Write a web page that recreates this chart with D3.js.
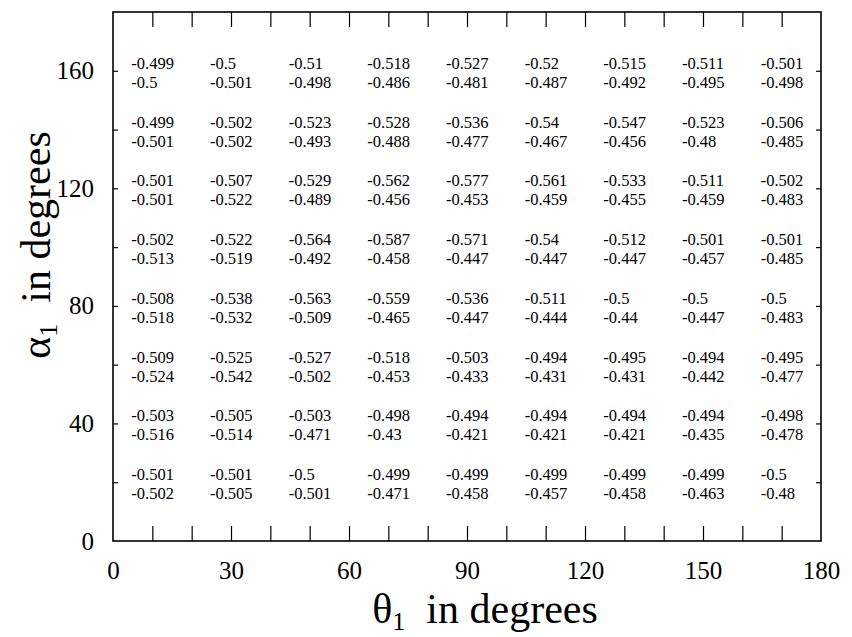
<!DOCTYPE html>
<html>
<head>
<meta charset="utf-8">
<script src="https://cdn.jsdelivr.net/npm/d3@7"></script>
<style>
  body { margin: 0; background: #fff; }
  svg { font-family: "Liberation Serif", "DejaVu Serif", serif; }
  .frame { fill: none; stroke: #000; stroke-width: 1.6; }
  .tick line { stroke: #000; stroke-width: 1.2; }
  .domain { display: none; }
</style>
</head>
<body>
<svg width="852" height="637"></svg>
<script>
// grid positions (degrees)
const thetas = [10, 30, 50, 70, 90, 110, 130, 150, 170]
const alphas = [160, 140, 120, 100, 80, 60, 40, 20]

// upper number in each cell, rows from alpha=160 down to alpha=20
const upperValues = [
  [-0.499, -0.5, -0.51, -0.518, -0.527, -0.52, -0.515, -0.511, -0.501],
  [-0.499, -0.502, -0.523, -0.528, -0.536, -0.54, -0.547, -0.523, -0.506],
  [-0.501, -0.507, -0.529, -0.562, -0.577, -0.561, -0.533, -0.511, -0.502],
  [-0.502, -0.522, -0.564, -0.587, -0.571, -0.54, -0.512, -0.501, -0.501],
  [-0.508, -0.538, -0.563, -0.559, -0.536, -0.511, -0.5, -0.5, -0.5],
  [-0.509, -0.525, -0.527, -0.518, -0.503, -0.494, -0.495, -0.494, -0.495],
  [-0.503, -0.505, -0.503, -0.498, -0.494, -0.494, -0.494, -0.494, -0.498],
  [-0.501, -0.501, -0.5, -0.499, -0.499, -0.499, -0.499, -0.499, -0.5]
]

// lower number in each cell
const lowerValues = [
  [-0.5, -0.501, -0.498, -0.486, -0.481, -0.487, -0.492, -0.495, -0.498],
  [-0.501, -0.502, -0.493, -0.488, -0.477, -0.467, -0.456, -0.48, -0.485],
  [-0.501, -0.522, -0.489, -0.456, -0.453, -0.459, -0.455, -0.459, -0.483],
  [-0.513, -0.519, -0.492, -0.458, -0.447, -0.447, -0.447, -0.457, -0.485],
  [-0.518, -0.532, -0.509, -0.465, -0.447, -0.444, -0.44, -0.447, -0.483],
  [-0.524, -0.542, -0.502, -0.453, -0.433, -0.431, -0.431, -0.442, -0.477],
  [-0.516, -0.514, -0.471, -0.43, -0.421, -0.421, -0.421, -0.435, -0.478],
  [-0.502, -0.505, -0.501, -0.471, -0.458, -0.457, -0.458, -0.463, -0.48]
]

const xLabelTicks = [0, 30, 60, 90, 120, 150, 180]
const xMinorTicks = [10, 20, 30, 40, 50, 60, 70, 80, 90, 100, 110, 120, 130, 140, 150, 160, 170]
const yLabelTicks = [0, 40, 80, 120, 160]
const yMinorTicks = [20, 40, 60, 80, 100, 120, 140, 160]

const svg = d3.select('svg')
const plot = { left: 113, right: 821, top: 12, bottom: 541 }

const x = d3.scaleLinear().domain([0, 180]).range([plot.left, plot.right])
const y = d3.scaleLinear().domain([0, 180]).range([plot.bottom, plot.top])

// inner tick marks on all four sides
svg.append('g').attr('transform', `translate(0,${plot.bottom})`)
  .call(d3.axisBottom(x).tickValues(xMinorTicks).tickSize(-15).tickFormat(''))
svg.append('g').attr('transform', `translate(0,${plot.top})`)
  .call(d3.axisTop(x).tickValues(xMinorTicks).tickSize(-15).tickFormat(''))
svg.append('g').attr('transform', `translate(${plot.left},0)`)
  .call(d3.axisLeft(y).tickValues(yMinorTicks).tickSize(-5).tickFormat(''))
svg.append('g').attr('transform', `translate(${plot.right},0)`)
  .call(d3.axisRight(y).tickValues(yMinorTicks).tickSize(-5).tickFormat(''))

// tick labels
svg.append('g').attr('transform', `translate(0,${plot.bottom})`)
  .call(d3.axisBottom(x).tickValues(xLabelTicks).tickSize(0).tickPadding(20))
  .selectAll('text').attr('font-size', 25).attr('font-family', '"Liberation Serif", serif').attr('fill', '#000')
svg.append('g').attr('transform', `translate(${plot.left},0)`)
  .call(d3.axisLeft(y).tickValues(yLabelTicks).tickSize(0).tickPadding(19))
  .selectAll('text').attr('font-size', 25).attr('font-family', '"Liberation Serif", serif').attr('fill', '#000')

svg.append('rect').attr('class', 'frame')
  .attr('x', plot.left).attr('y', plot.top)
  .attr('width', plot.right - plot.left).attr('height', plot.bottom - plot.top)

// cell values
const cells = []
alphas.forEach((a, i) => thetas.forEach((t, j) => {
  cells.push({ t, a, upper: upperValues[i][j], lower: lowerValues[i][j] })
}))

const cellG = svg.append('g').selectAll('g').data(cells).enter().append('g')
  .attr('transform', d => `translate(${x(d.t) - 21},${y(d.a)})`)
  .attr('font-size', 16.5)
cellG.append('text').attr('y', -2).text(d => String(d.upper))
cellG.append('text').attr('y', 17).text(d => String(d.lower))

// axis titles
const xt = svg.append('text').attr('x', (plot.left + plot.right) / 2 + 18).attr('y', 623)
  .attr('text-anchor', 'middle').attr('font-size', 42)
xt.append('tspan').text('θ')
xt.append('tspan').attr('font-size', 26).attr('dy', 7).text('1')
xt.append('tspan').attr('dy', -7).text('\u00a0\u00a0in degrees')

const yt = svg.append('text')
  .attr('transform', `translate(50,245) rotate(-90)`)
  .attr('text-anchor', 'middle').attr('font-size', 42)
yt.append('tspan').text('α')
yt.append('tspan').attr('font-size', 26).attr('dy', 7).text('1')
yt.append('tspan').attr('dy', -7).text('\u00a0\u00a0in degrees')
</script>
</body>
</html>
